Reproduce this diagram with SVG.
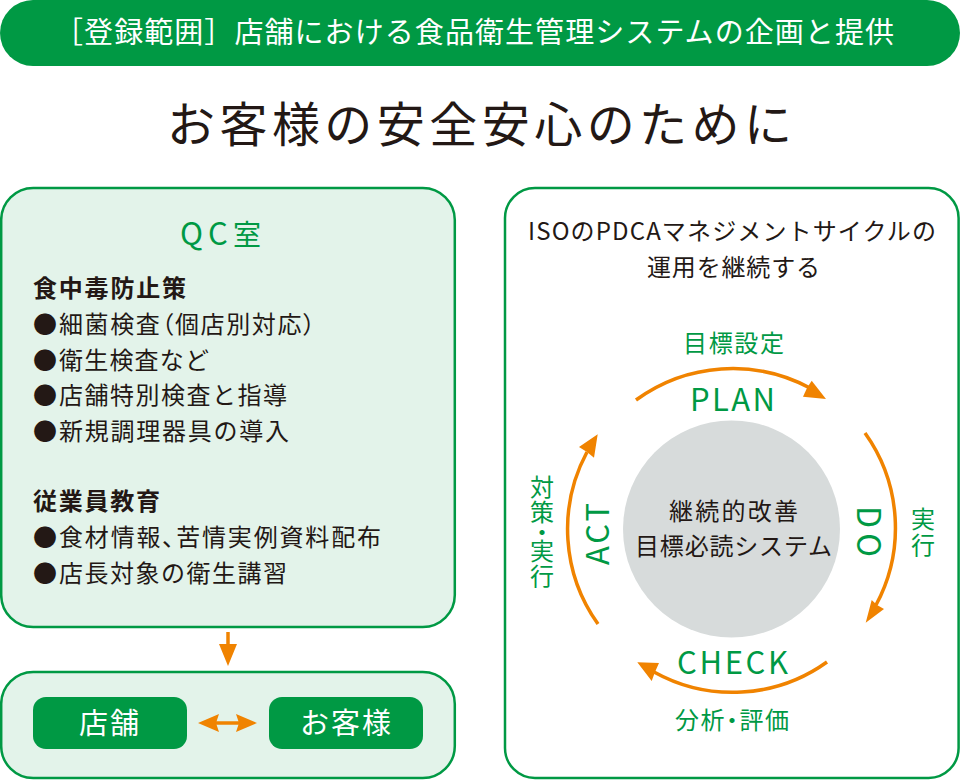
<svg xmlns="http://www.w3.org/2000/svg" width="960" height="780" viewBox="0 0 960 780">
<style>
text{font-family:"Noto Sans CJK JP","Noto Sans",sans-serif;font-weight:400;fill:#231815}
.g{fill:#009944}
.w{fill:#fff}
.b{font-weight:700}
.l{font-size:24px}
.p{font-feature-settings:"palt"}
.panel{stroke:#009944;stroke-width:2.5}
.btn{fill:#009944}
.arc{fill:none;stroke:#f08300;stroke-width:3.5}
.head{fill:#f08300}
.v{writing-mode:vertical-rl;font-size:24px;font-feature-settings:"vpal"}
</style>
<g id="banner"><rect x="0" y="0" width="960" height="66" rx="33" fill="#009944"/>
<text class="w" x="54" y="43" font-size="29" textLength="840">［登録範囲］店舗における食品衛生管理システムの企画と提供</text></g>
<g id="title"><text x="167" y="142" font-size="48" textLength="625">お客様の安全安心のために</text></g>
<g id="qc"><rect class="panel" x="1.2" y="188" width="453.6" height="439" rx="32" fill="#e3f3ea"/>
<text class="g" x="180" y="245" font-size="28" textLength="81"><tspan font-size="31">QC</tspan>室</text>
<text class="l b" x="33" y="297" textLength="153">食中毒防止策</text>
<text class="l" x="33" y="333">●</text><text class="l p" x="59" y="333" textLength="256">細菌検査（個店別対応）</text>
<text class="l" x="33" y="369">●</text><text class="l" x="59" y="369" textLength="150">衛生検査など</text>
<text class="l" x="33" y="404">●</text><text class="l" x="59" y="404" textLength="228">店舗特別検査と指導</text>
<text class="l" x="33" y="440">●</text><text class="l" x="59" y="440" textLength="230">新規調理器具の導入</text>
<text class="b l" x="33" y="510" textLength="127">従業員教育</text>
<text class="l" x="33" y="546">●</text><text class="l p" x="59" y="546" textLength="322">食材情報、苦情実例資料配布</text>
<text class="l" x="33" y="582">●</text><text class="l" x="59" y="582" textLength="228">店長対象の衛生講習</text></g>
<g id="shop-area"><rect class="panel" x="1.2" y="672" width="453.6" height="106" rx="32" fill="#e3f3ea"/></g>
<g id="shop"><rect class="btn" x="33" y="697" width="154" height="52" rx="13"/><text class="w" x="79" y="734" font-size="29" textLength="60">店舗</text></g>
<g id="customer"><rect class="btn" x="269" y="697" width="154" height="52" rx="13"/><text class="w" x="300" y="734" font-size="29" textLength="91">お客様</text></g>
<g id="pdca"><rect class="panel" x="505" y="188" width="453.6" height="590" rx="30" fill="#fff"/>
<text x="528" y="240" font-size="24" textLength="408">ISOのPDCAマネジメントサイクルの</text>
<text x="647" y="276" font-size="24" textLength="173">運用を継続する</text>
<circle cx="731.5" cy="529" r="108.5" fill="#d7dbdb"/>
<text x="669" y="520" font-size="24" textLength="129">継続的改善</text>
<text x="635" y="555" font-size="24" textLength="197">目標必読システム</text>
<text class="g" x="683" y="352" font-size="24" textLength="101">目標設定</text>
<text class="g" x="690" y="411" font-size="31" textLength="85">PLAN</text>
<text class="g" x="677" y="674" font-size="31" textLength="111">CHECK</text>
<text class="g p" x="675" y="729" font-size="24" textLength="114">分析・評価</text>
<text class="g" transform="translate(609 565) rotate(-90)" font-size="31" textLength="62">ACT</text>
<text class="g" transform="translate(857 506) rotate(90)" font-size="32" textLength="51">DO</text>
<text class="g v" x="923" y="507" textLength="50">実行</text>
<text class="g v" x="542" y="475" textLength="113">対策・実行</text></g>
<g id="connectors">
<path class="arc" d="M228 632V648"/>
<polygon class="head" points="219,644 237,644 228,666"/>
<path class="arc" d="M206 723H250"/>
<polygon class="head" points="198,723 219,714 216,723 219,732"/>
<polygon class="head" points="257,723 236,714 239,723 236,732"/>
<path class="arc" d="M636 400A164 164 0 0 1 810 388"/>
<polygon class="head" points="826,399 811.7,380.7 807,388 803,396.7"/>
<path class="arc" d="M865 433A163 163 0 0 1 876 605"/>
<polygon class="head" points="865.7,622.7 871.7,600 877,605 884,609"/>
<path class="arc" d="M827 662A162 162 0 0 1 654 672"/>
<polygon class="head" points="637.3,662.3 659,663 655,672 651.7,681"/>
<path class="arc" d="M598 624A163 163 0 0 1 587 452"/>
<polygon class="head" points="597.7,434.3 579,447 587,452 594,457.7"/>
</g>
</svg>
